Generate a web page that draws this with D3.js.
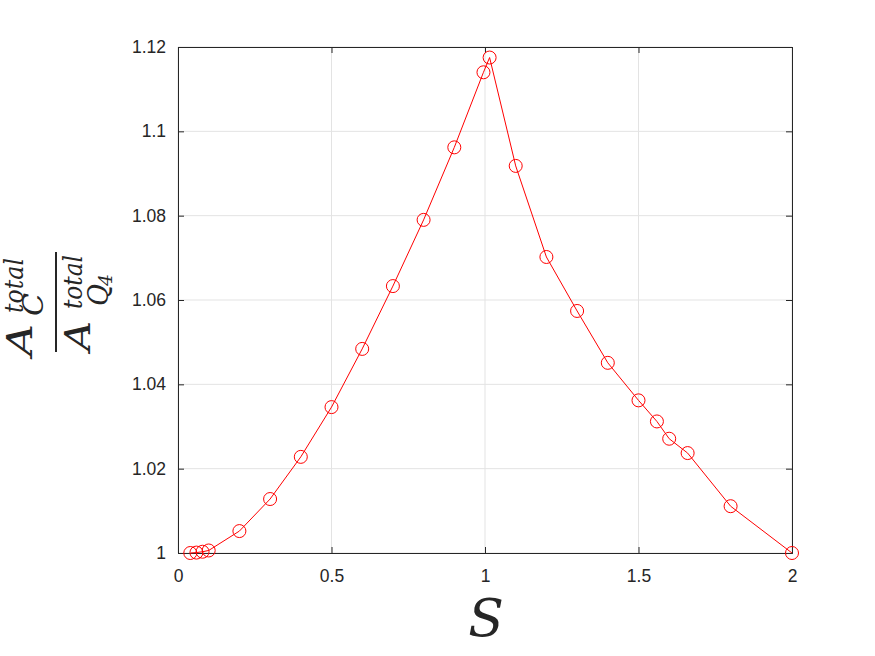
<!DOCTYPE html>
<html>
<head>
<meta charset="utf-8">
<script src="https://cdn.jsdelivr.net/npm/d3@7"></script>
<style>
  body { margin:0; background:#fff; }
  .tick text { font-family:"Liberation Sans", Arial, sans-serif; font-size:17.5px; fill:#262626; }
  .math { font-family:"DejaVu Serif", "Liberation Serif", serif; font-style:italic; fill:#262626; }
</style>
</head>
<body>
<div id="chart"></div>
<script>
// S values and area ratio
let sValues = [0.04, 0.06, 0.08, 0.1, 0.2, 0.3, 0.4, 0.5, 0.6, 0.7, 0.8, 0.9, 0.995, 1.015,
               1.1, 1.2, 1.3, 1.4, 1.5, 1.56, 1.6, 1.66, 1.8, 2.0];
let ratioValues = [1.0000, 1.0001, 1.0003, 1.0006, 1.0052, 1.0128, 1.0228, 1.0346, 1.0484, 1.0633, 1.0790, 1.0962, 1.1140, 1.1175,
                   1.0918, 1.0702, 1.0574, 1.0451, 1.0362, 1.0312, 1.0271, 1.0237, 1.0111, 1.0000];
let xTicks = [0, 0.5, 1, 1.5, 2];
let yTicks = [1, 1.02, 1.04, 1.06, 1.08, 1.1, 1.12];

function render(){
  let width = 875,
      height = 656,
      margin = { top:47, right:83, bottom:103, left:178 },
      innerWidth = width - margin.left - margin.right,
      innerHeight = height - margin.top - margin.bottom;

  let data = sValues.map((s,i) => ({ s:s, r:ratioValues[i] }));

  let xScale = d3.scaleLinear().domain([0,2]).range([0,innerWidth]);
  let yScale = d3.scaleLinear().domain([1,1.12]).range([innerHeight,0]);

  let svg = d3.select("#chart").append("svg").attr("width",width).attr("height",height)
  let g = svg.append("g").attr("transform",`translate(${margin.left},${margin.top})`)

  // grid
  g.append("g").selectAll("line").data(xTicks).enter().append("line")
    .attr("x1",d=>xScale(d)).attr("x2",d=>xScale(d)).attr("y1",0).attr("y2",innerHeight)
    .attr("stroke","#e3e3e3").attr("stroke-width",1)
  g.append("g").selectAll("line").data(yTicks).enter().append("line")
    .attr("y1",d=>yScale(d)).attr("y2",d=>yScale(d)).attr("x1",0).attr("x2",innerWidth)
    .attr("stroke","#e3e3e3").attr("stroke-width",1)

  // axes with inward ticks (box style)
  let fmt = d => d3.format("")(+d.toFixed(2))
  let xAxis = d3.axisBottom(xScale).tickValues(xTicks).tickSize(-6).tickPadding(17).tickFormat(fmt)
  let yAxis = d3.axisLeft(yScale).tickValues(yTicks).tickSize(-6).tickPadding(12).tickFormat(fmt)
  let xTop = d3.axisTop(xScale).tickValues(xTicks).tickSize(-6).tickFormat("")
  let yRight = d3.axisRight(yScale).tickValues(yTicks).tickSize(-6).tickFormat("")

  let groups = [
    g.append("g").attr("transform",`translate(0,${innerHeight})`).call(xAxis),
    g.append("g").call(yAxis),
    g.append("g").call(xTop),
    g.append("g").attr("transform",`translate(${innerWidth},0)`).call(yRight)
  ]
  groups.forEach(a => {
    a.select(".domain").attr("stroke","#262626").attr("stroke-width",1)
    a.selectAll(".tick line").attr("stroke","#262626")
  })

  // line + markers
  let lineGen = d3.line().x(d=>xScale(d.s)).y(d=>yScale(d.r))
  g.append("path").attr("d",lineGen(data)).attr("fill","none").attr("stroke","#ff0000").attr("stroke-width",1)
  g.selectAll("circle").data(data).enter().append("circle")
    .attr("cx",d=>xScale(d.s)).attr("cy",d=>yScale(d.r)).attr("r",6.5)
    .attr("fill","none").attr("stroke","#ff0000").attr("stroke-width",1)

  // x label
  svg.append("text").attr("class","math").attr("x",486).attr("y",636)
    .attr("text-anchor","middle").attr("font-size",52).text("S")

  // y label: fraction A^total_C / A^total_Q4, rotated
  let yl = svg.append("g").attr("transform","rotate(-90)")
  let put = (t,x,y,size,len) => {
    let el = yl.append("text").attr("class","math").attr("x",x).attr("y",y).attr("font-size",size).text(t)
    if (len) el.attr("textLength",len).attr("lengthAdjust","spacingAndGlyphs")
    return el
  }
  put("A",-356,32,36,32)
  put("total",-313,23,26,55)
  put("C",-316,43,27,23)
  yl.append("line").attr("x1",-352).attr("x2",-252).attr("y1",56).attr("y2",56).attr("stroke","#262626").attr("stroke-width",2)
  put("A",-351,90,36,30)
  put("total",-309,82,26,54)
  put("Q",-306,108,27,22)
  put("4",-286,112,19).attr("font-style","normal")
}

render()
</script>
</body>
</html>
